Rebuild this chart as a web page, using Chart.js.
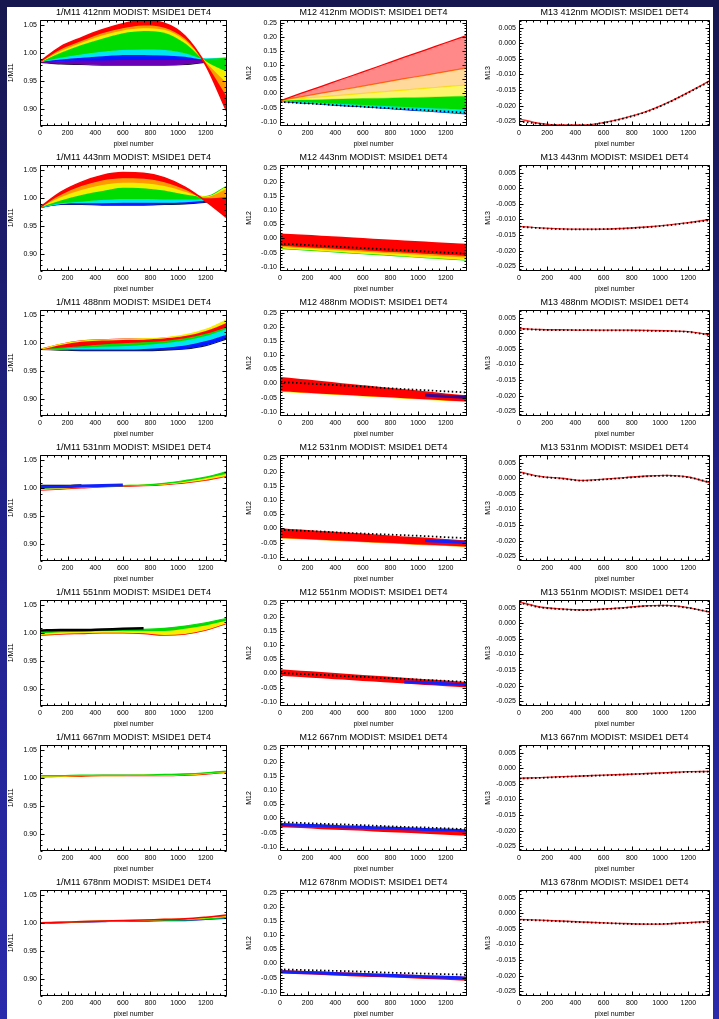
<!DOCTYPE html>
<html><head><meta charset="utf-8">
<script src="https://cdn.jsdelivr.net/npm/chart.js@4/dist/chart.umd.min.js"></script>
<style>
html,body{margin:0;padding:0}
body{width:719px;height:1019px;overflow:hidden;position:relative;background:linear-gradient(180deg,#17174f 0%,#20208a 50%,#2a2aac 100%);}
#sheet{position:absolute;left:7px;top:7px;width:706px;height:1012px;background:#fff}
canvas{position:absolute}
</style></head><body><div id="sheet"></div>
<script>
// ---------- data ----------
const pixels = [0, 150, 300, 450, 600, 750, 900, 1050, 1200, 1354];
const bands = ['412nm', '443nm', '488nm', '531nm', '551nm', '667nm', '678nm'];
const xTicks = [0, 200, 400, 600, 800, 1000, 1200];
const m11Ticks = [0.90, 0.95, 1.00, 1.05];
const m12Ticks = [-0.10, -0.05, 0.00, 0.05, 0.10, 0.15, 0.20, 0.25];
const m13Ticks = [-0.025, -0.020, -0.015, -0.010, -0.005, 0.000, 0.005];

// 1/M11 curves (one entry per family of curves)
const m11_412 = {
  black:  [0.984,0.981,0.980,0.979,0.979,0.979,0.979,0.980,0.984,0.988],
  purple: [0.985,0.986,0.987,0.987,0.988,0.988,0.988,0.988,0.988,0.989],
  blue:   [0.985,0.989,0.992,0.995,0.997,0.997,0.996,0.994,0.989,0.990],
  cyan:   [0.985,0.992,0.998,1.003,1.006,1.007,1.006,1.000,0.990,0.992],
  green:  [0.985,1.001,1.015,1.026,1.036,1.040,1.037,1.018,0.986,0.967],
  yellow: [0.985,1.004,1.019,1.032,1.041,1.045,1.042,1.023,0.984,0.946],
  orange: [0.985,1.007,1.022,1.036,1.045,1.050,1.046,1.026,0.982,0.922],
  red:    [0.985,1.012,1.028,1.042,1.053,1.058,1.054,1.031,0.979,0.895]
};
const m11_443 = {
  black:  [0.984,0.989,0.989,0.988,0.988,0.988,0.989,0.990,0.993,0.997],
  blue:   [0.984,0.990,0.991,0.991,0.992,0.992,0.992,0.993,0.996,1.003],
  cyan:   [0.984,0.991,0.994,0.997,0.999,0.999,0.998,0.998,0.999,1.010],
  green:  [0.984,0.996,1.006,1.013,1.019,1.018,1.014,1.007,1.003,1.022],
  yellow: [0.984,1.002,1.015,1.024,1.028,1.027,1.022,1.012,1.002,1.017],
  orange: [0.984,1.006,1.022,1.032,1.036,1.035,1.029,1.016,1.000,1.002],
  red:    [0.984,1.011,1.029,1.041,1.046,1.045,1.037,1.020,0.995,0.965]
};
const m11_488 = {
  black:  [0.989,0.988,0.987,0.987,0.987,0.987,0.988,0.990,0.996,1.008],
  blue:   [0.989,0.989,0.989,0.989,0.989,0.990,0.992,0.996,1.004,1.016],
  cyan:   [0.989,0.990,0.992,0.994,0.995,0.997,1.000,1.005,1.013,1.026],
  green:  [0.989,0.992,0.995,0.998,1.000,1.002,1.004,1.009,1.017,1.029],
  red:    [0.989,0.998,1.004,1.006,1.007,1.007,1.009,1.013,1.022,1.037],
  yellow: [0.989,0.998,1.004,1.006,1.007,1.008,1.010,1.015,1.025,1.042]
};
const m11_531 = {
  red:       [0.997,0.999,1.001,1.003,1.004,1.005,1.007,1.010,1.015,1.022],
  yellow:    [0.999,1.001,1.002,1.004,1.005,1.006,1.008,1.012,1.018,1.026],
  green:     [1.001,1.002,1.003,1.004,1.005,1.006,1.009,1.014,1.020,1.030],
  blueLine:  [1.003,1.003,1.004,1.005,1.006,null,null,null,null,null],
  blackLine: [1.004,1.004,1.005,null,null,null,null,null,null,null]
};
const m11_551 = {
  red:       [0.997,0.999,1.000,1.001,1.001,1.000,0.997,0.999,1.006,1.018],
  yellow:    [1.000,1.002,1.003,1.004,1.004,1.004,1.004,1.008,1.014,1.023],
  green:     [1.002,1.004,1.005,1.006,1.006,1.007,1.009,1.013,1.019,1.027],
  blackLine: [1.005,1.006,1.006,1.007,1.008,1.009,null,null,null,null]
};
const m11_667 = {
  red:    [1.003,1.004,1.004,1.005,1.005,1.005,1.005,1.006,1.008,1.011],
  yellow: [1.004,1.004,1.005,1.005,1.005,1.006,1.006,1.007,1.009,1.012],
  green:  [1.005,1.005,1.006,1.006,1.006,1.006,1.007,1.008,1.010,1.013]
};
const m11_678 = {
  blue:   [1.000,1.001,1.002,1.003,1.004,1.004,1.005,1.005,1.007,1.009],
  green:  [1.000,1.002,1.003,1.004,1.005,1.005,1.006,1.007,1.009,1.012],
  yellow: [1.001,1.002,1.003,1.004,1.005,1.006,1.007,1.008,1.010,1.013],
  red:    [1.001,1.002,1.003,1.004,1.005,1.006,1.007,1.008,1.011,1.015]
};

// M12 curves
const m12_412 = {
  blue:        [-0.028,-0.033,-0.038,-0.043,-0.047,-0.052,-0.057,-0.062,-0.067,-0.072],
  cyan:        [-0.027,-0.030,-0.034,-0.037,-0.041,-0.044,-0.048,-0.051,-0.054,-0.058],
  green:       [-0.025,-0.023,-0.022,-0.020,-0.018,-0.017,-0.015,-0.014,-0.012,-0.010],
  yellowLight: [-0.024,-0.018,-0.012,-0.006,0.000,0.006,0.012,0.018,0.024,0.030],
  orangeLight: [-0.025,-0.012,0.001,0.013,0.026,0.039,0.052,0.064,0.077,0.090],
  redLight:    [-0.026,0.000,0.025,0.051,0.076,0.102,0.128,0.153,0.179,0.205],
  ref:         [-0.030,-0.034,-0.038,-0.043,-0.047,-0.051,-0.055,-0.059,-0.064,-0.068]
};
const m12_443 = {
  green:  [-0.035,-0.040,-0.044,-0.049,-0.054,-0.058,-0.063,-0.068,-0.072,-0.077],
  yellow: [-0.030,-0.034,-0.038,-0.043,-0.047,-0.051,-0.055,-0.059,-0.064,-0.068],
  orange: [-0.026,-0.030,-0.034,-0.038,-0.042,-0.046,-0.050,-0.054,-0.058,-0.062],
  red:    [-0.022,-0.026,-0.030,-0.034,-0.038,-0.042,-0.046,-0.050,-0.054,-0.058],
  red2:   [0.015,0.011,0.007,0.003,-0.001,-0.006,-0.010,-0.014,-0.018,-0.022],
  ref:    [-0.018,-0.022,-0.026,-0.030,-0.034,-0.038,-0.042,-0.046,-0.050,-0.054]
};
const m12_488 = {
  yellow:     [-0.028,-0.032,-0.036,-0.040,-0.044,-0.048,-0.052,-0.056,-0.060,-0.064],
  red:        [-0.022,-0.026,-0.030,-0.035,-0.039,-0.043,-0.047,-0.051,-0.056,-0.060],
  red2:       [0.020,0.013,0.006,-0.002,-0.009,-0.016,-0.023,-0.030,-0.038,-0.045],
  purpleLine: [null,null,null,null,null,null,null,-0.041,-0.045,-0.049],
  ref:        [0.005,0.001,-0.003,-0.007,-0.011,-0.016,-0.020,-0.024,-0.028,-0.032]
};
const m12_531 = {
  orange:   [-0.033,-0.036,-0.040,-0.043,-0.047,-0.050,-0.054,-0.057,-0.060,-0.064],
  red:      [-0.028,-0.032,-0.035,-0.039,-0.042,-0.046,-0.049,-0.053,-0.056,-0.060],
  red2:     [-0.002,-0.007,-0.012,-0.016,-0.021,-0.026,-0.031,-0.035,-0.040,-0.045],
  blueLine: [null,null,null,null,null,null,null,-0.043,-0.046,-0.050],
  ref:      [-0.005,-0.008,-0.011,-0.015,-0.018,-0.021,-0.024,-0.027,-0.031,-0.034]
};
const m12_551 = {
  red:      [-0.005,-0.010,-0.014,-0.019,-0.024,-0.028,-0.033,-0.038,-0.042,-0.047],
  red2:     [0.012,0.007,0.002,-0.003,-0.008,-0.013,-0.018,-0.023,-0.028,-0.033],
  blueLine: [null,null,null,null,null,null,-0.030,-0.033,-0.036,-0.040],
  ref:      [0.002,-0.002,-0.005,-0.009,-0.012,-0.016,-0.019,-0.023,-0.026,-0.030]
};
const m12_667 = {
  red:      [-0.028,-0.031,-0.035,-0.038,-0.041,-0.045,-0.048,-0.051,-0.055,-0.058],
  red2:     [-0.020,-0.023,-0.027,-0.030,-0.033,-0.037,-0.040,-0.043,-0.047,-0.050],
  blueLine: [-0.021,-0.024,-0.026,-0.029,-0.031,-0.034,-0.036,-0.039,-0.041,-0.044],
  ref:      [-0.013,-0.016,-0.019,-0.021,-0.024,-0.027,-0.030,-0.032,-0.035,-0.038]
};
const m12_678 = {
  red:      [-0.032,-0.035,-0.038,-0.041,-0.044,-0.046,-0.049,-0.052,-0.055,-0.058],
  red2:     [-0.026,-0.029,-0.031,-0.034,-0.037,-0.039,-0.042,-0.045,-0.047,-0.050],
  blueLine: [-0.029,-0.032,-0.034,-0.037,-0.039,-0.042,-0.044,-0.047,-0.049,-0.052],
  ref:      [-0.021,-0.023,-0.025,-0.027,-0.029,-0.032,-0.034,-0.036,-0.038,-0.040]
};

// M13 curves
const m13_412 = {
  m13: [-0.0242,-0.0257,-0.0262,-0.0262,-0.0254,-0.0239,-0.0219,-0.0191,-0.0157,-0.0120],
  ref: [-0.0250,-0.0258,-0.0263,-0.0263,-0.0255,-0.0240,-0.0220,-0.0192,-0.0158,-0.0122]
};
const m13_443 = {
  m13: [-0.0122,-0.0127,-0.0130,-0.0131,-0.0131,-0.0128,-0.0124,-0.0118,-0.0110,-0.0100],
  ref: [-0.0123,-0.0128,-0.0131,-0.0132,-0.0131,-0.0129,-0.0125,-0.0119,-0.0111,-0.0102]
};
const m13_488 = {
  m13: [0.0015,0.0012,0.0011,0.0010,0.0010,0.0010,0.0009,0.0008,0.0005,-0.0005],
  ref: [0.0014,0.0011,0.0010,0.0010,0.0009,0.0009,0.0008,0.0007,0.0004,-0.0006]
};
const m13_531 = {
  m13: [0.0021,0.0006,0.0000,-0.0007,-0.0003,0.0002,0.0007,0.0009,0.0004,-0.0015],
  ref: [0.0018,0.0005,-0.0001,-0.0008,-0.0004,0.0001,0.0006,0.0008,0.0003,-0.0013]
};
const m13_551 = {
  m13: [0.0068,0.0052,0.0046,0.0043,0.0046,0.0050,0.0056,0.0057,0.0050,0.0035],
  ref: [0.0066,0.0051,0.0045,0.0042,0.0045,0.0049,0.0055,0.0056,0.0049,0.0036]
};
const m13_667 = {
  m13: [-0.0032,-0.0030,-0.0027,-0.0025,-0.0022,-0.0020,-0.0017,-0.0014,-0.0011,-0.0010],
  ref: [-0.0033,-0.0031,-0.0028,-0.0025,-0.0023,-0.0020,-0.0018,-0.0015,-0.0012,-0.0011]
};
const m13_678 = {
  m13: [-0.0020,-0.0022,-0.0025,-0.0028,-0.0031,-0.0033,-0.0035,-0.0034,-0.0030,-0.0026],
  ref: [-0.0021,-0.0023,-0.0026,-0.0029,-0.0031,-0.0034,-0.0035,-0.0034,-0.0031,-0.0027]
};

const m11Panels = [m11_412, m11_443, m11_488, m11_531, m11_551, m11_667, m11_678];
const m12Panels = [m12_412, m12_443, m12_488, m12_531, m12_551, m12_667, m12_678];
const m13Panels = [m13_412, m13_443, m13_488, m13_531, m13_551, m13_667, m13_678];

// ---------- styles & layout ----------
const FONT = "'Liberation Sans', Arial, sans-serif";
const STYLE = {
  black:  {c:'#151515', w:1.2, fan:true},
  purple: {c:'#6a00b8', w:1.2, fan:true},
  blue:   {c:'#0018ff', w:1.2, fan:true},
  cyan:   {c:'#00e6f0', w:1.2, fan:true},
  green:  {c:'#00dc00', w:1.2, fan:true},
  yellow: {c:'#f4ee00', w:1.2, fan:true},
  orange: {c:'#ff9a00', w:1.2, fan:true},
  red:    {c:'#ff0000', w:1.6, fan:true},
  red2:   {c:'#ff0000', w:1.6, fan:true},
  yellowLight: {c:'#f4ee00', f:'rgba(250,240,60,0.75)', w:1.2, fan:true},
  orangeLight: {c:'#ff8000', f:'rgba(255,190,90,0.6)', w:1.2, fan:true},
  redLight:    {c:'#ff0000', f:'rgba(255,40,40,0.55)', w:1.2, fan:true},
  blackLine:  {c:'#000000', w:2.5},
  blueLine:   {c:'#1020ff', w:3},
  purpleLine: {c:'#3a0090', w:3},
  ref:    {c:'#000000', w:1.8, dash:[1.5, 2.5]},
  m13:    {c:'#ff2a2a', w:1.4}
};
const COLS = [
  {name:'1/M11', panels:m11Panels, min:0.87, max:1.06, ticks:m11Ticks, major:0.05, minor:0.01, dec:2, L:40, R:227, yw:33},
  {name:'M12', panels:m12Panels, min:-0.115, max:0.26, ticks:m12Ticks, major:0.05, minor:0.01, dec:2, L:280, R:467, yw:35},
  {name:'M13', panels:m13Panels, min:-0.0265, max:0.0075, ticks:m13Ticks, major:0.005, minor:0.001, dec:3, L:519, R:710, yw:35}
];

const framePlugin = {
  id: 'frame',
  afterDatasetsDraw(chart, args, o) {
    const {ctx, chartArea: a} = chart;
    const xs = chart.scales.x, ys = chart.scales.y;
    ctx.save();
    ctx.strokeStyle = '#000'; ctx.lineWidth = 1;
    ctx.beginPath();
    const L = Math.round(a.left) + 0.5, R = Math.round(a.right) - 0.5;
    const T = Math.round(a.top) + 0.5, B = Math.round(a.bottom) - 0.5;
    ctx.rect(L, T, R - L, B - T);
    for (let v = 0; v <= xs.max; v += 50) {
      const p = Math.round(xs.getPixelForValue(v)) + 0.5;
      const len = v % 200 === 0 ? 4 : 2;
      ctx.moveTo(p, B); ctx.lineTo(p, B - len);
      ctx.moveTo(p, T); ctx.lineTo(p, T + len);
    }
    const k0 = Math.ceil(ys.min / o.minor - 1e-9), k1 = Math.floor(ys.max / o.minor + 1e-9);
    const ratio = Math.round(o.major / o.minor);
    for (let k = k0; k <= k1; k++) {
      const p = Math.round(ys.getPixelForValue(k * o.minor)) + 0.5;
      const len = (k % ratio === 0) ? 4 : 2;
      ctx.moveTo(L, p); ctx.lineTo(L + len, p);
      ctx.moveTo(R, p); ctx.lineTo(R - len, p);
    }
    ctx.stroke();
    ctx.restore();
  }
};

function makeDatasets(panel) {
  const ds = [];
  let fans = 0;
  for (const [key, vals] of Object.entries(panel)) {
    const s = STYLE[key];
    const d = {
      data: vals.map((v, i) => ({x: pixels[i], y: v})),
      borderColor: s.c, borderWidth: s.w, pointRadius: 0,
      cubicInterpolationMode: 'monotone', spanGaps: false
    };
    if (s.dash) d.borderDash = s.dash;
    if (s.fan) {
      d.fill = fans > 0 ? '-1' : false;
      d.backgroundColor = s.f || s.c;
      d.order = 100 - fans;
      fans++;
    } else {
      d.fill = false;
      d.order = key === 'ref' ? 0 : 1;
    }
    ds.push(d);
  }
  return ds;
}

COLS.forEach(col => {
  col.panels.forEach((panel, r) => {
    const T = 20 + 145 * r;
    const w = col.R - col.L + col.yw + 3, h = 142;
    const cv = document.createElement('canvas');
    cv.width = w; cv.height = h;
    cv.style.left = (col.L - col.yw) + 'px';
    cv.style.top = (T - 14) + 'px';
    cv.style.width = w + 'px'; cv.style.height = h + 'px';
    document.body.appendChild(cv);
    new Chart(cv, {
      type: 'line',
      data: {datasets: makeDatasets(panel)},
      options: {
        responsive: false, animation: false, devicePixelRatio: 1,
        layout: {padding: {left: 0, right: 3, top: 0, bottom: 0}},
        plugins: {
          legend: {display: false}, tooltip: {enabled: false},
          title: {display: true, fullSize: false, text: col.name + ' ' + bands[r] + ' MODIST: MSIDE1 DET4',
                  color: '#000', font: {family: FONT, size: 9, weight: 'normal'}, padding: {top: 1, bottom: 2}},
          frame: {major: col.major, minor: col.minor}
        },
        scales: {
          x: {
            type: 'linear', min: 0, max: 1354,
            afterBuildTicks: s => { s.ticks = xTicks.map(v => ({value: v})); },
            afterFit: s => { s.height = 22; },
            grid: {display: false, drawTicks: false}, border: {display: false},
            ticks: {color: '#000', font: {family: FONT, size: 7}, padding: 3, maxRotation: 0, autoSkip: false, callback: v => String(v)},
            title: {display: true, text: 'pixel number', color: '#000', font: {family: FONT, size: 7}, padding: 0}
          },
          y: {
            type: 'linear', min: col.min, max: col.max,
            afterBuildTicks: s => { s.ticks = col.ticks.map(v => ({value: v})); },
            afterFit: s => { s.width = col.yw; },
            grid: {display: false, drawTicks: false}, border: {display: false},
            ticks: {color: '#000', font: {family: FONT, size: 7}, padding: 3, autoSkip: false, callback: v => Number(v).toFixed(col.dec)},
            title: {display: true, text: col.name, color: '#000', font: {family: FONT, size: 7}, padding: 0}
          }
        }
      },
      plugins: [framePlugin]
    });
  });
});
</script></body></html>
